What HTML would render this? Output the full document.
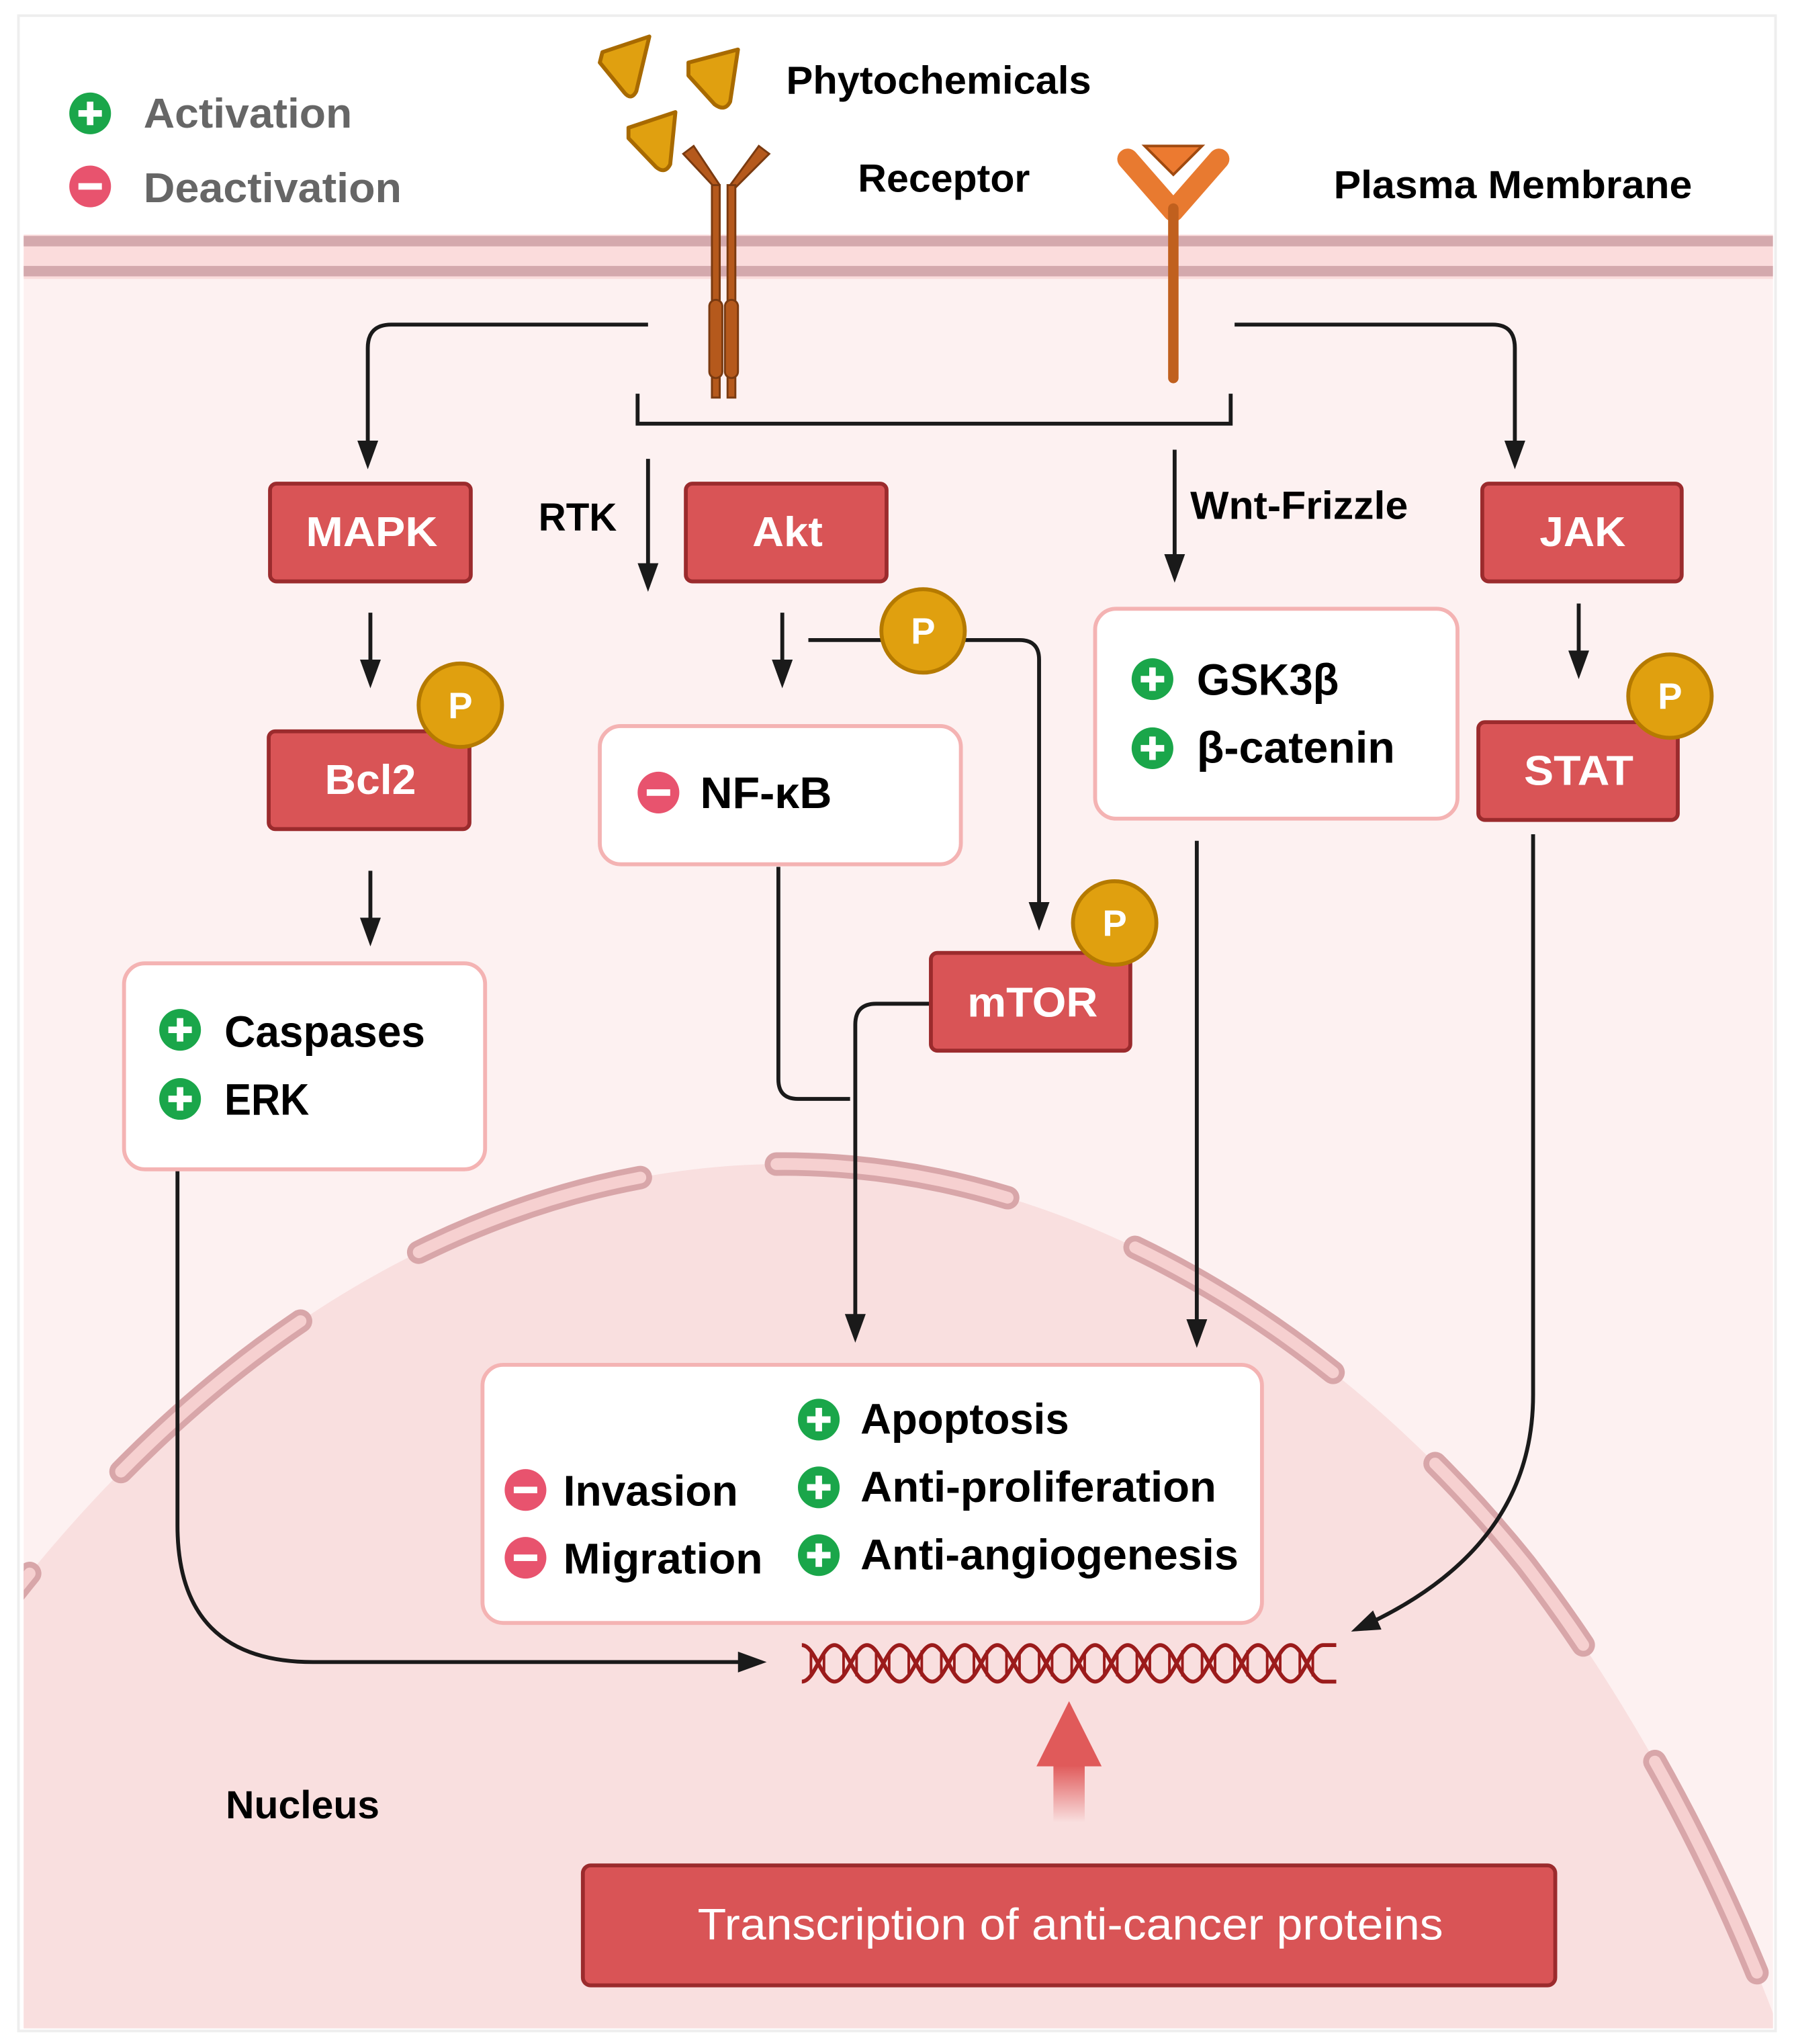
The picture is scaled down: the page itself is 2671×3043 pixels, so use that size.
<!DOCTYPE html>
<html><head><meta charset="utf-8"><style>
html,body{margin:0;padding:0;background:#fff;width:2671px;height:3043px;overflow:hidden}
svg{display:block}
text{font-family:"Liberation Sans",sans-serif;font-weight:bold}
</style></head><body>
<svg width="2671" height="3043" viewBox="0 0 1376 1568" xmlns="http://www.w3.org/2000/svg">
<defs>
<clipPath id="fr"><rect x="18" y="14" width="1342" height="1542"/></clipPath>
<marker id="ah" markerWidth="22" markerHeight="16" refX="18" refY="8" orient="auto" markerUnits="userSpaceOnUse" viewBox="0 0 22 16"><path d="M0,0 L22,8 L0,16 z" fill="#1a1a1a"/></marker>
<linearGradient id="fade" x1="0" y1="0" x2="0" y2="1"><stop offset="0" stop-color="#e05a5a"/><stop offset="1" stop-color="#e05a5a" stop-opacity="0"/></linearGradient>
<g id="plus"><circle r="16" fill="#1aa64a"/><rect x="-9" y="-2.5" width="18" height="5" fill="#fff"/><rect x="-2.5" y="-9" width="5" height="18" fill="#fff"/></g>
<g id="minus"><circle r="16" fill="#e8536e"/><rect x="-9" y="-2.5" width="18" height="5" fill="#fff"/></g>
<g id="pb"><circle r="32" fill="#e0a00f" stroke="#b57a00" stroke-width="3"/><text x="0" y="10" font-size="28" fill="#fff" text-anchor="middle">P</text></g>
</defs>
<rect x="14" y="12" width="1348" height="1546" fill="#fff" stroke="#eee" stroke-width="2"/>
<g clip-path="url(#fr)">
<rect x="14" y="195" width="1350" height="1370" fill="#fdf1f1"/>
<rect x="14" y="180" width="1350" height="34" fill="#fbdcdc"/>
<rect x="14" y="181" width="1350" height="8" fill="#d4a9ad"/>
<rect x="14" y="204" width="1350" height="8" fill="#d4a9ad"/>
<path d="M-60,1320 C150,1000 400,890 610,893 C850,897 1050,1050 1170,1200 C1270,1330 1340,1480 1380,1600 L1380,1600 L-60,1600 Z" fill="#f9dfdf"/>
<path d="M-60,1320 C150,1000 400,890 610,893 C850,897 1050,1050 1170,1200 C1270,1330 1340,1480 1380,1600" fill="none" stroke="#d8a6a9" stroke-width="18" stroke-linecap="round" stroke-dasharray="180 105" stroke-dashoffset="40"/>
<path d="M-60,1320 C150,1000 400,890 610,893 C850,897 1050,1050 1170,1200 C1270,1330 1340,1480 1380,1600" fill="none" stroke="#f6d0d0" stroke-width="9" stroke-linecap="round" stroke-dasharray="180 105" stroke-dashoffset="40"/>
</g>
<!-- legend -->
<use href="#plus" x="69" y="87"/><text x="110" y="98" font-size="32" fill="#666" textLength="160" lengthAdjust="spacingAndGlyphs">Activation</text>
<use href="#minus" x="69" y="143"/><text x="110" y="155" font-size="32" fill="#666" textLength="198" lengthAdjust="spacingAndGlyphs">Deactivation</text>
<text x="603" y="72" font-size="30" textLength="234" lengthAdjust="spacingAndGlyphs">Phytochemicals</text>
<text x="658" y="147" font-size="30" textLength="132" lengthAdjust="spacingAndGlyphs">Receptor</text>
<text x="1023" y="152" font-size="30" textLength="275" lengthAdjust="spacingAndGlyphs">Plasma Membrane</text>
<!-- ligands -->
<g fill="#e0a010" stroke="#a86a00" stroke-width="3" stroke-linejoin="round">
<path d="M462,40 L498,28 L488,70 Q484,78 478,70 L460,48 Z"/>
<path d="M528,48 L566,38 L560,78 Q556,86 548,80 L528,58 Z"/>
<path d="M482,98 L518,86 L514,126 Q510,134 503,128 L482,106 Z"/>
</g>
<!-- RTK receptor -->
<g stroke="#7a3a10" stroke-width="1.5" fill="#b5591c">
<path d="M524,118 L532,112 L552,142 L552,148 Z"/>
<path d="M590,118 L582,112 L560,142 L560,148 Z"/>
<rect x="546" y="142" width="6" height="163"/><rect x="558" y="142" width="6" height="163"/>
<rect x="544" y="230" width="10" height="60" rx="5"/><rect x="556" y="230" width="10" height="60" rx="5"/>
</g>
<!-- Wnt receptor -->
<path d="M865,122 L900,162 L935,122" fill="none" stroke="#e87a30" stroke-width="16" stroke-linecap="round" stroke-linejoin="round"/>
<path d="M878,112 L922,112 L900,134 Z" fill="#ec7a30" stroke="#a04a10" stroke-width="2"/>
<line x1="900" y1="160" x2="900" y2="290" stroke="#c0601e" stroke-width="8" stroke-linecap="round"/>
<!-- connectors -->
<g fill="none" stroke="#1a1a1a" stroke-width="3">
<path d="M497,249 L300,249 Q282,249 282,267 L282,356" marker-end="url(#ah)"/>
<path d="M947,249 L1145,249 Q1162,249 1162,267 L1162,356" marker-end="url(#ah)"/>
<path d="M489,302 L489,325 L944,325 L944,302"/>
<path d="M497,352 L497,450" marker-end="url(#ah)"/>
<path d="M901,345 L901,443" marker-end="url(#ah)"/>
<path d="M284,470 L284,524" marker-end="url(#ah)"/>
<path d="M284,668 L284,722" marker-end="url(#ah)"/>
<path d="M600,470 L600,524" marker-end="url(#ah)"/>
<path d="M620,491 L680,491"/>
<path d="M740,491 L782,491 Q797,491 797,506 L797,710" marker-end="url(#ah)"/>
<path d="M597,665 L597,828 Q597,843 612,843 L652,843"/>
<path d="M714,770 L672,770 Q656,770 656,786 L656,1026" marker-end="url(#ah)"/>
<path d="M918,645 L918,1030" marker-end="url(#ah)"/>
<path d="M1211,463 L1211,517" marker-end="url(#ah)"/>
<path d="M1176,640 L1176,1070 Q1176,1190 1040,1250" marker-end="url(#ah)"/>
<path d="M136,898 L136,1170 Q136,1275 240,1275 L584,1275" marker-end="url(#ah)"/>
</g>
<!-- red boxes -->
<g fill="#d95456" stroke="#9b2b2d" stroke-width="3">
<rect x="207" y="371" width="154" height="75" rx="5"/>
<rect x="526" y="371" width="154" height="75" rx="5"/>
<rect x="1137" y="371" width="153" height="75" rx="5"/>
<rect x="206" y="561" width="154" height="75" rx="5"/>
<rect x="714" y="731" width="153" height="75" rx="5"/>
<rect x="1134" y="554" width="153" height="75" rx="5"/>
<rect x="447" y="1431" width="746" height="92" rx="6"/>
</g>
<g fill="#fff" font-size="32" text-anchor="middle">
<text x="285" y="419" textLength="101" lengthAdjust="spacingAndGlyphs">MAPK</text>
<text x="604" y="419" textLength="54" lengthAdjust="spacingAndGlyphs">Akt</text>
<text x="1214" y="419" textLength="66" lengthAdjust="spacingAndGlyphs">JAK</text>
<text x="284" y="609" textLength="70" lengthAdjust="spacingAndGlyphs">Bcl2</text>
<text x="792" y="780" textLength="100" lengthAdjust="spacingAndGlyphs">mTOR</text>
<text x="1211" y="602" textLength="84" lengthAdjust="spacingAndGlyphs">STAT</text>
<text x="821" y="1488" font-size="34" textLength="572" lengthAdjust="spacingAndGlyphs" style="font-weight:normal">Transcription of anti-cancer proteins</text>
</g>
<use href="#pb" x="353" y="541"/><use href="#pb" x="708" y="484"/><use href="#pb" x="855" y="708"/><use href="#pb" x="1281" y="534"/>
<text x="413" y="407" font-size="30" textLength="60" lengthAdjust="spacingAndGlyphs">RTK</text>
<text x="913" y="398" font-size="30" textLength="167" lengthAdjust="spacingAndGlyphs">Wnt-Frizzle</text>
<!-- white boxes -->
<g fill="#fff" stroke="#f4b3b3" stroke-width="3">
<rect x="95" y="739" width="277" height="158" rx="16"/>
<rect x="460" y="557" width="277" height="106" rx="16"/>
<rect x="840" y="467" width="278" height="161" rx="16"/>
<rect x="370" y="1047" width="598" height="198" rx="16"/>
</g>
<use href="#plus" x="138" y="790"/><text x="172" y="803" font-size="34" textLength="154" lengthAdjust="spacingAndGlyphs">Caspases</text>
<use href="#plus" x="138" y="843"/><text x="172" y="855" font-size="34" textLength="65" lengthAdjust="spacingAndGlyphs">ERK</text>
<use href="#minus" x="505" y="608"/><text x="537" y="620" font-size="34" textLength="101" lengthAdjust="spacingAndGlyphs">NF-κB</text>
<use href="#plus" x="884" y="521"/><text x="918" y="533" font-size="34" textLength="109" lengthAdjust="spacingAndGlyphs">GSK3β</text>
<use href="#plus" x="884" y="574"/><text x="918" y="585" font-size="34" textLength="152" lengthAdjust="spacingAndGlyphs">β-catenin</text>
<use href="#plus" x="628" y="1089"/><text x="660" y="1100" font-size="33" textLength="160" lengthAdjust="spacingAndGlyphs">Apoptosis</text>
<use href="#plus" x="628" y="1141"/><text x="660" y="1152" font-size="33" textLength="273" lengthAdjust="spacingAndGlyphs">Anti-proliferation</text>
<use href="#plus" x="628" y="1193"/><text x="660" y="1204" font-size="33" textLength="290" lengthAdjust="spacingAndGlyphs">Anti-angiogenesis</text>
<use href="#minus" x="403" y="1143"/><text x="432" y="1155" font-size="33" textLength="134" lengthAdjust="spacingAndGlyphs">Invasion</text>
<use href="#minus" x="403" y="1195"/><text x="432" y="1207" font-size="33" textLength="153" lengthAdjust="spacingAndGlyphs">Migration</text>
<!-- DNA -->
<g fill="none" stroke="#9b1b1b" stroke-width="3">
<path d="M615,1262 C625,1262 630,1290 640,1290 S655,1262 665,1262 S680,1290 690,1290 S705,1262 715,1262 S730,1290 740,1290 S755,1262 765,1262 S780,1290 790,1290 S805,1262 815,1262 S830,1290 840,1290 S855,1262 865,1262 S880,1290 890,1290 S905,1262 915,1262 S930,1290 940,1290 S955,1262 965,1262 S980,1290 990,1290 S1005,1262 1015,1262 L1025,1262"/>
<path d="M615,1290 C625,1290 630,1262 640,1262 S655,1290 665,1290 S680,1262 690,1262 S705,1290 715,1290 S730,1262 740,1262 S755,1290 765,1290 S780,1262 790,1262 S805,1290 815,1290 S830,1262 840,1262 S855,1290 865,1290 S880,1262 890,1262 S905,1290 915,1290 S930,1262 940,1262 S955,1290 965,1290 S980,1262 990,1262 S1005,1290 1015,1290 L1025,1290"/>
</g>
<g stroke="#9b1b1b" stroke-width="2">
<path d="M622,1266v20M632,1268v16M647,1268v16M657,1266v20M672,1266v20M682,1268v16M697,1268v16M707,1266v20M722,1266v20M732,1268v16M747,1268v16M757,1266v20M772,1266v20M782,1268v16M797,1268v16M807,1266v20M822,1266v20M832,1268v16M847,1268v16M857,1266v20M872,1266v20M882,1268v16M897,1268v16M907,1266v20M922,1266v20M932,1268v16M947,1268v16M957,1266v20M972,1266v20M982,1268v16M997,1268v16M1007,1266v20"/>
</g>
<!-- up arrow -->
<path d="M820,1305 L845,1355 L795,1355 Z" fill="#e05a5a"/>
<rect x="808" y="1354" width="24" height="44" fill="url(#fade)"/>
<text x="173" y="1395" font-size="30" textLength="118" lengthAdjust="spacingAndGlyphs">Nucleus</text>
</svg>
</body></html>
